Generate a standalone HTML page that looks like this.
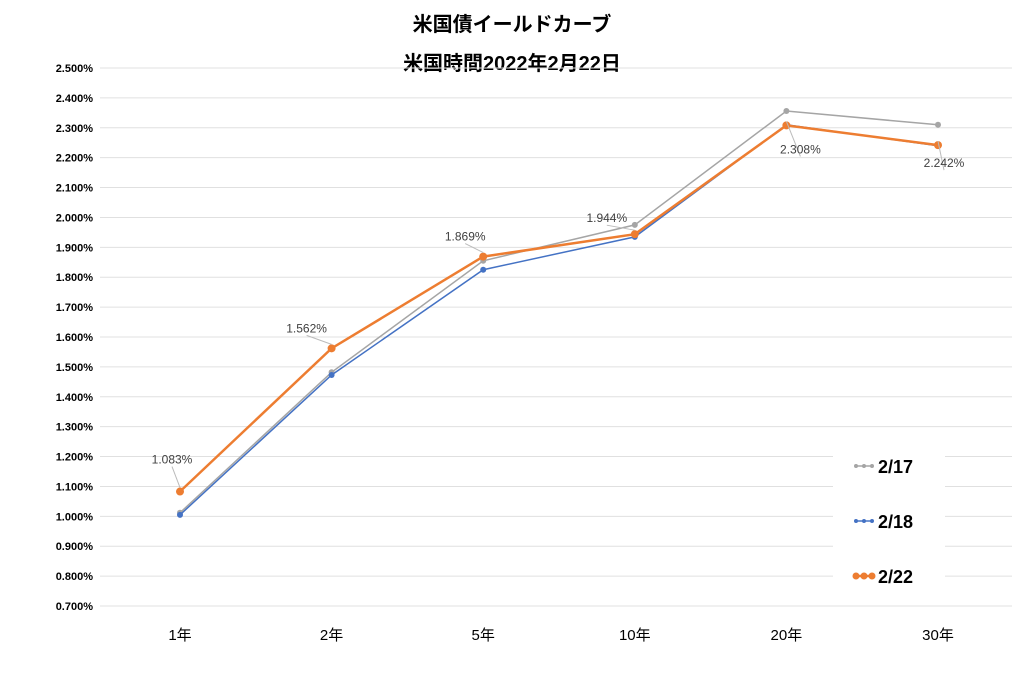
<!DOCTYPE html>
<html><head><meta charset="utf-8"><style>
body{margin:0;background:#fff;}
svg text{font-family:"Liberation Sans","Noto Sans CJK JP",sans-serif;}
</style></head><body>
<svg id="chart" width="1024" height="685" viewBox="0 0 1024 685" xmlns="http://www.w3.org/2000/svg">
<rect width="1024" height="685" fill="#fff"/>
<text x="512" y="31" text-anchor="middle" font-size="20" font-weight="bold" fill="#000">米国債イールドカーブ</text>
<text x="512" y="70" text-anchor="middle" font-size="20" font-weight="bold" fill="#000">米国時間2022年2月22日</text>
<g id="grid"></g><g id="yticks"></g><g id="xticks"></g><g id="series"></g><g id="labels"></g>
<g>
<rect x="833" y="445" width="112" height="155" fill="#fff"/>
</g>
<g id="legend"></g>
</svg>
<script>
const categories=["1年","2年","5年","10年","20年","30年"];
const s0217=[1.012,1.482,1.855,1.975,2.356,2.310];
const s0218=[1.005,1.473,1.825,1.935,2.310,2.240];
const s0222=[1.083,1.562,1.869,1.944,2.308,2.242];
const yTicks=[0.7,0.8,0.9,1.0,1.1,1.2,1.3,1.4,1.5,1.6,1.7,1.8,1.9,2.0,2.1,2.2,2.3,2.4,2.5];
const NS="http://www.w3.org/2000/svg";
function y(v){return 606-(v-0.7)/1.8*538;}
function x(i){return 180+i*151.6;}
function mk(t,a,p){const e=document.createElementNS(NS,t);for(const k in a)e.setAttribute(k,a[k]);p.appendChild(e);return e;}
const grid=document.getElementById('grid'),yt=document.getElementById('yticks'),xt=document.getElementById('xticks');
yTicks.forEach(v=>{
 const l=mk('line',{x1:100,x2:1012,y1:y(v),y2:y(v),stroke:'#e0e0e0','stroke-width':1},grid);
 
 
 const t=mk('text',{x:93,y:y(v)+4,'text-anchor':'end','font-size':11,'font-weight':'bold',fill:'#000'},yt);
 t.textContent=v.toFixed(3)+'%';
 
 
});
categories.forEach((c,i)=>{
 const t=mk('text',{x:x(i),y:640,'text-anchor':'middle','font-size':15,fill:'#000'},xt);
 t.textContent=c;
 
 
});
const ser=document.getElementById('series');
function draw(data,color,w,r,name){
 const g=mk('g',{},ser);
 
 
 mk('polyline',{points:data.map((v,i)=>x(i)+','+y(v)).join(' '),fill:'none',stroke:color,'stroke-width':w},g);
 data.forEach((v,i)=>{
  const c=mk('circle',{cx:x(i),cy:y(v),r:r,fill:color},g);
  
  
 });
}
draw(s0217,'#a5a5a5',1.5,3,'series-2-17');
draw(s0218,'#4472c4',1.5,3,'series-2-18');
draw(s0222,'#ed7d31',2.5,4,'series-2-22');
const lab=document.getElementById('labels');
const off=[[-8,-28],[-25,-16],[-18,-16],[-28,-12],[14,28],[6,22]];
s0222.forEach((v,i)=>{
 const lx=x(i)+off[i][0],ly=y(v)+off[i][1];
 mk('line',{x1:x(i),y1:y(v)-4,x2:lx,y2:ly+3,stroke:'#bbb','stroke-width':1},lab);
 const t=mk('text',{x:lx,y:ly,'text-anchor':'middle','font-size':12,fill:'#404040'},lab);
 t.textContent=v.toFixed(3)+'%';
 
 
});
const leg=document.getElementById('legend');
[['2/17','#a5a5a5',466,1.5,2],['2/18','#4472c4',521,1.5,2],['2/22','#ed7d31',576,2.5,3.5]].forEach(e=>{
 const g=mk('g',{},leg);
 
 
 mk('line',{x1:856,x2:872,y1:e[2],y2:e[2],stroke:e[1],'stroke-width':e[3]},g);
 [856,864,872].forEach(cx=>mk('circle',{cx:cx,cy:e[2],r:e[4],fill:e[1]},g));
 const t=mk('text',{x:878,y:e[2]+7,'font-size':18,'font-weight':'bold',fill:'#000'},g);
 t.textContent=e[0];
});
</script>
</body></html>
